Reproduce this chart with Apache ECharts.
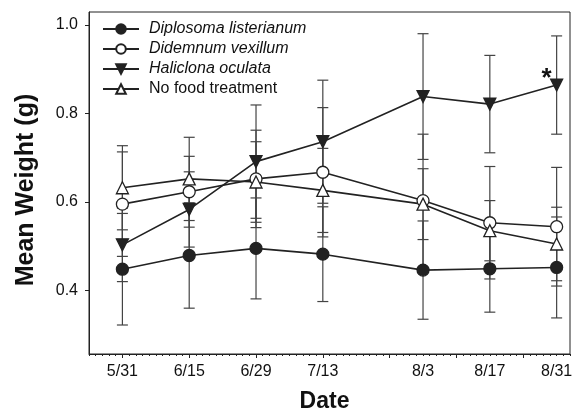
<!DOCTYPE html>
<html>
<head>
<meta charset="utf-8">
<script src="https://cdn.jsdelivr.net/npm/echarts@6/dist/echarts.min.js"></script>
<style>
html, body { margin: 0; padding: 0; background: #fff; }
#main { width: 575px; height: 414px; }
</style>
</head>
<body>
<div id="main"></div>
<script>
// x position of each sampling date, in weeks from 5/31
var weeks = [0, 2, 4, 6, 9, 11, 13];
var dateLabels = ['5/31', '6/15', '6/29', '7/13', '8/3', '8/17', '8/31'];
var yTicks = [0.4, 0.6, 0.8, 1.0];

// mean weight (g) and error bar half-length
var diplosoma = [0.448, 0.479, 0.495, 0.482, 0.446, 0.449, 0.452];
var diplosomaErr = [0.126, 0.119, 0.114, 0.107, 0.111, 0.098, 0.114];
var didemnum = [0.595, 0.623, 0.652, 0.667, 0.603, 0.553, 0.544];
var didemnumErr = [0.118, 0.080, 0.110, 0.146, 0.150, 0.127, 0.134];
var haliclona = [0.503, 0.583, 0.691, 0.736, 0.838, 0.821, 0.864];
var haliclonaErr = [0.083, 0.085, 0.128, 0.139, 0.142, 0.110, 0.111];
var noFood = [0.632, 0.652, 0.645, 0.626, 0.595, 0.535, 0.505];
var noFoodErr = [0.095, 0.094, 0.091, 0.095, 0.080, 0.068, 0.083];

var ink = '#222';
var font = '"Liberation Sans", Arial, sans-serif';

function points(vals) {
	return vals.map(function (v, i) { return [weeks[i], v]; });
}
function bars(vals, errs) {
	return vals.map(function (v, i) { return [weeks[i], v - errs[i], v + errs[i]]; });
}

function errorBar(params, api) {
	var x = api.value(0);
	var lo = api.coord([x, api.value(1)]);
	var hi = api.coord([x, api.value(2)]);
	var w = 5.5;
	var st = { stroke: '#444', lineWidth: 1.2 };
	return {
		type: 'group',
		children: [
			{ type: 'line', shape: { x1: lo[0], y1: lo[1], x2: hi[0], y2: hi[1] }, style: st },
			{ type: 'line', shape: { x1: lo[0] - w, y1: lo[1], x2: lo[0] + w, y2: lo[1] }, style: st },
			{ type: 'line', shape: { x1: hi[0] - w, y1: hi[1], x2: hi[0] + w, y2: hi[1] }, style: st }
		]
	};
}

function errSeries(vals, errs) {
	return {
		type: 'custom',
		renderItem: errorBar,
		data: bars(vals, errs),
		encode: { x: 0, y: [1, 2] },
		z: 1,
		silent: true
	};
}

function lineSeries(name, vals, symbol, fill, rotate) {
	return {
		name: name,
		type: 'line',
		data: points(vals),
		symbol: symbol,
		symbolSize: 12,
		symbolRotate: rotate || 0,
		showAllSymbol: true,
		lineStyle: { color: ink, width: 1.6 },
		itemStyle: { color: fill, borderColor: ink, borderWidth: 1.3 },
		z: 3
	};
}

// minor ticks along the date axis
var minorTicks = [];
for (var t = -1; t <= 13.4; t += 0.2) minorTicks.push(Math.round(t * 10) / 10);

var myChart = echarts.init(document.getElementById('main'));
var halSeries = lineSeries('Haliclona oculata', haliclona, 'triangle', ink, 180);
halSeries.markPoint = {
	symbol: 'circle',
	symbolSize: 1,
	itemStyle: { color: 'rgba(0,0,0,0)' },
	data: [{ coord: [weeks[6], haliclona[6]] }],
	label: {
		show: true,
		formatter: '*',
		fontSize: 26,
		fontWeight: 'bold',
		color: '#111',
		offset: [-10, -6]
	}
};

var option = {
	animation: false,
	textStyle: { fontFamily: font },
	grid: {
		left: 89, top: 12, right: 5, bottom: 60,
		outerBoundsMode: 'none',
		containLabel: false,
		show: true, borderColor: ink, borderWidth: 1
	},
	legend: {
		orient: 'vertical',
		left: 102,
		top: 21,
		padding: 0,
		itemWidth: 36,
		itemHeight: 12,
		itemGap: 4,
		selectedMode: false,
		textStyle: { fontSize: 16, color: '#111', fontFamily: font, padding: [0, 0, 0, 5] },
		data: [
			{ name: 'Diplosoma listerianum', textStyle: { fontStyle: 'italic' } },
			{ name: 'Didemnum vexillum', textStyle: { fontStyle: 'italic' } },
			{ name: 'Haliclona oculata', textStyle: { fontStyle: 'italic' } },
			{ name: 'No food treatment' }
		]
	},
	xAxis: [{
		type: 'value',
		min: -1,
		max: 13.4,
		name: 'Date',
		nameLocation: 'middle',
		nameGap: 36,
		nameTextStyle: { fontSize: 23, fontWeight: 'bold', color: '#111', padding: [0, 10, 0, 0] },
		axisLine: { onZero: false, lineStyle: { color: ink } },
		axisTick: { length: 4, lineStyle: { color: ink }, customValues: [0, 2, 4, 6, 8, 10, 12] },
		axisLabel: {
			fontSize: 16,
			color: '#111',
			margin: 10,
			customValues: weeks,
			formatter: function (v) {
				var i = weeks.indexOf(v);
				return i >= 0 ? dateLabels[i] : '';
			}
		},
		splitLine: { show: false }
	}, {
		type: 'value',
		position: 'bottom',
		min: -1,
		max: 13.4,
		axisLine: { show: false, onZero: false },
		axisTick: { length: 2, lineStyle: { color: ink }, customValues: minorTicks },
		axisLabel: { show: false },
		splitLine: { show: false }
	}],
	yAxis: {
		type: 'value',
		min: 0.2565,
		max: 1.029,
		name: 'Mean Weight (g)',
		nameLocation: 'middle',
		nameGap: 50,
		nameTextStyle: { fontSize: 25, fontWeight: 'bold', color: '#111', padding: [0, 14, 0, 0] },
		axisLine: { show: true, onZero: false, lineStyle: { color: ink } },
		axisTick: { length: 4, lineStyle: { color: ink }, customValues: yTicks },
		axisLabel: {
			fontSize: 16,
			color: '#111',
			margin: 11,
			customValues: yTicks,
			formatter: function (v) { return v.toFixed(1); }
		},
		splitLine: { show: false }
	},
	series: [
		errSeries(diplosoma, diplosomaErr),
		errSeries(didemnum, didemnumErr),
		errSeries(haliclona, haliclonaErr),
		errSeries(noFood, noFoodErr),
		lineSeries('Diplosoma listerianum', diplosoma, 'circle', ink),
		lineSeries('Didemnum vexillum', didemnum, 'circle', '#fff'),
		halSeries,
		lineSeries('No food treatment', noFood, 'triangle', '#fff')
	]
};
myChart.setOption(option);
</script>
</body>
</html>
